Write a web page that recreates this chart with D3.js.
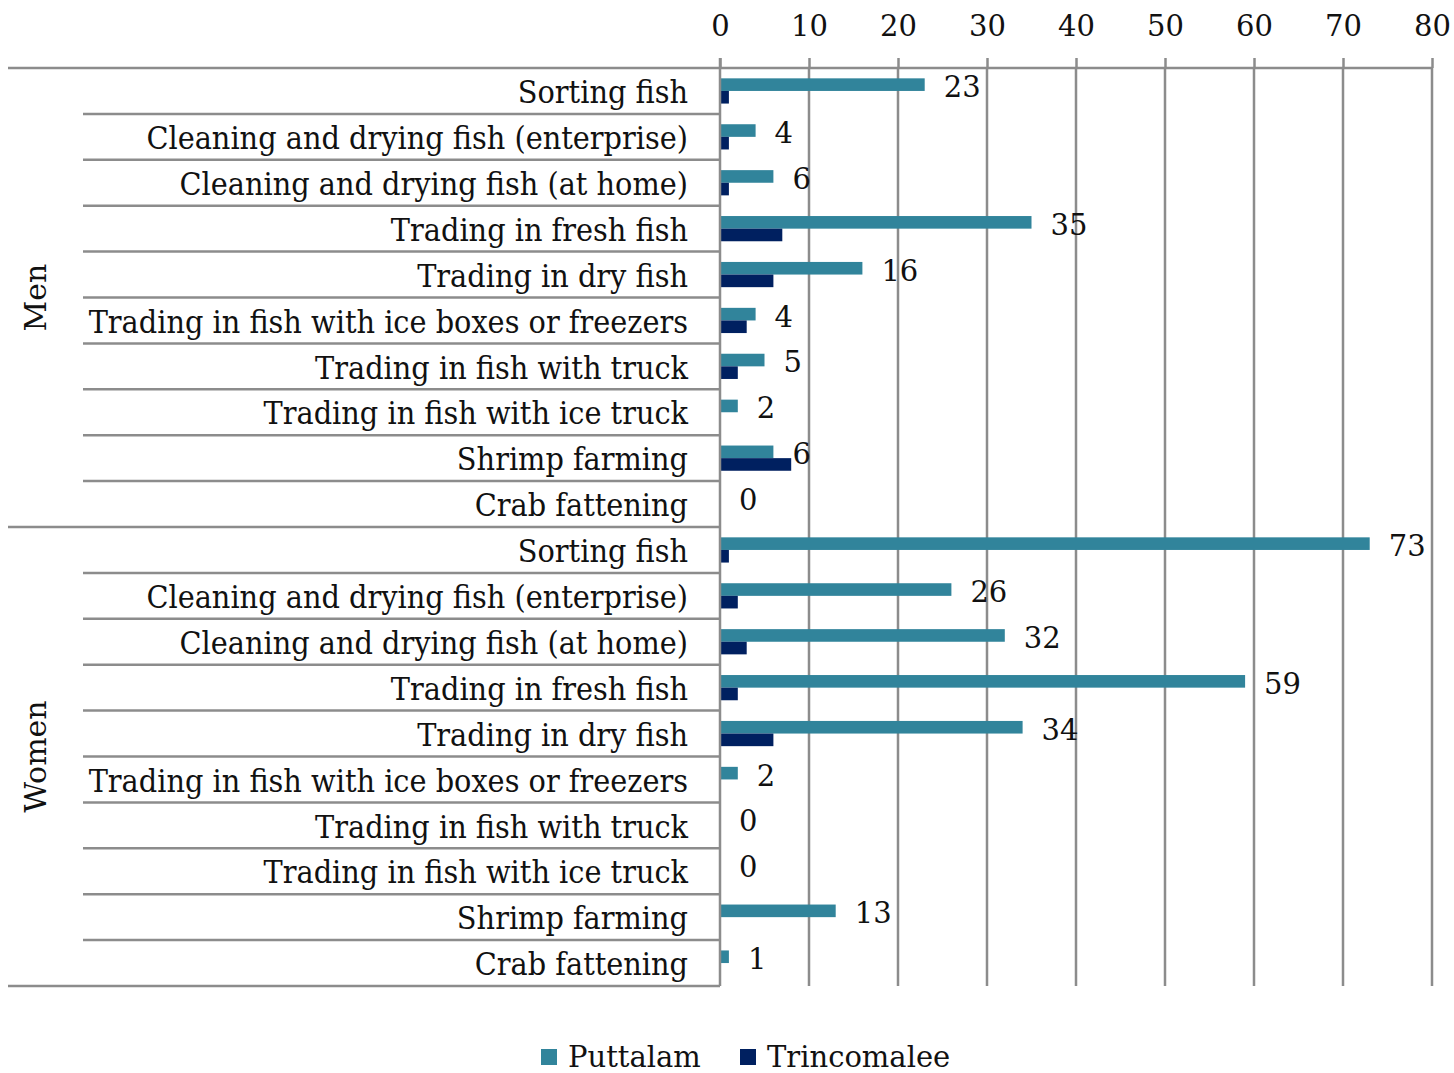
<!DOCTYPE html>
<html><head><meta charset="utf-8">
<script src="https://cdn.jsdelivr.net/npm/d3@7"></script>
<style>body{margin:0;background:#fff;} svg{display:block;} text{font-family:"DejaVu Serif",serif;fill:#111;} .cond{font-stretch:condensed;}</style>
</head><body><svg id="c" width="1454" height="1073"></svg>
<script>
const groups = ["Men", "Women"];
const activities = ["Sorting fish","Cleaning and drying fish (enterprise)","Cleaning and drying fish (at home)","Trading in fresh fish","Trading in dry fish","Trading in fish with ice boxes or freezers","Trading in fish with truck","Trading in fish with ice truck","Shrimp farming","Crab fattening"];
const series = ["Puttalam", "Trincomalee"];
const puttalamMen = [23,4,6,35,16,4,5,2,6,0];
const trincomaleeMen = [1,1,1,7,6,3,2,0,8,0];
const puttalamWomen = [73,26,32,59,34,2,0,0,13,1];
const trincomaleeWomen = [1,2,3,2,6,0,0,0,0,0];
const xTicks = [0,10,20,30,40,50,60,70,80];
const colors = ["#31849B", "#002060"];

const rows = [];
groups.forEach((g, gi) => activities.forEach((a, ai) => {
  const p = gi === 0 ? puttalamMen[ai] : puttalamWomen[ai];
  const t = gi === 0 ? trincomaleeMen[ai] : trincomaleeWomen[ai];
  rows.push({key: g + "|" + a, group: g, label: a, idx: ai, vals: [p, t]});
}));

const svg = d3.select("#c");
const topY = 68, bottomY = 986, left0 = 8, innerLeft = 83, axisX = 720;
const x = d3.scaleLinear().domain([0, 80]).range([720, 1432]);
const y = d3.scaleBand().domain(rows.map(r => r.key)).range([topY, bottomY]);
const yi = d3.scaleBand().domain(series).range([0, y.bandwidth()]).paddingInner(0).paddingOuter(0.82);

const gridCol = "#8c8c8c";
svg.append("g").selectAll("line").data(xTicks.slice(1)).join("line")
  .attr("x1", d => x(d)).attr("x2", d => x(d)).attr("y1", topY).attr("y2", bottomY)
  .attr("stroke", gridCol).attr("stroke-width", 2.5);

const ax = svg.append("g").attr("transform", `translate(0,${topY})`)
  .call(d3.axisTop(x).tickValues(xTicks).tickSize(10).tickPadding(22).tickFormat(d3.format("d")));
ax.select(".domain").remove();
ax.selectAll(".tick line").attr("stroke", gridCol).attr("stroke-width", 2.5);
ax.selectAll(".tick text").attr("font-size", 29).attr("font-family", "DejaVu Serif").attr("fill", "#111");

const rg = svg.append("g").selectAll("g").data(rows).join("g")
  .attr("transform", d => `translate(0,${y(d.key)})`);
rg.selectAll("rect").data(d => d.vals.map((v, i) => ({v, s: series[i], i}))).join("rect")
  .attr("x", x(0)).attr("y", d => yi(d.s)).attr("height", yi.bandwidth())
  .attr("width", d => x(d.v) - x(0)).attr("fill", d => colors[d.i]);
rg.append("text").attr("x", d => x(d.vals[0]) + 19).attr("y", yi("Puttalam") + yi.bandwidth() / 2 + 2)
  .attr("dy", "0.36em").attr("font-size", 29).text(d => d.vals[0]);
rg.append("text").attr("class", "cond").attr("x", 688).attr("y", y.bandwidth() / 2).attr("dy", "0.38em")
  .attr("text-anchor", "end").attr("font-size", 32).text(d => d.label);

svg.append("g").selectAll("line").data(rows.filter(r => r.idx > 0)).join("line")
  .attr("x1", innerLeft).attr("x2", axisX).attr("y1", d => y(d.key)).attr("y2", d => y(d.key))
  .attr("stroke", gridCol).attr("stroke-width", 2.5);
const gb = [topY, y(groups[1] + "|" + activities[0]), bottomY];
svg.append("g").selectAll("line").data(gb).join("line")
  .attr("x1", left0).attr("x2", (d, i) => i === 0 ? x(80) : axisX).attr("y1", d => d).attr("y2", d => d)
  .attr("stroke", gridCol).attr("stroke-width", 2.5);
svg.append("line").attr("x1", axisX).attr("x2", axisX).attr("y1", topY - 10).attr("y2", bottomY)
  .attr("stroke", gridCol).attr("stroke-width", 2.5);

groups.forEach((g, i) => {
  const cy = (gb[i] + gb[i + 1]) / 2;
  svg.append("text").attr("transform", `translate(35,${cy}) rotate(-90)`).attr("text-anchor", "middle")
    .attr("dy", "0.35em").attr("font-size", 30).text(g);
});

const leg = svg.append("g").attr("transform", "translate(0,1057)");
const lx = [541, 740];
series.forEach((s, i) => {
  leg.append("rect").attr("x", lx[i]).attr("y", -8).attr("width", 16).attr("height", 16).attr("fill", colors[i]);
  leg.append("text").attr("x", lx[i] + 27).attr("y", 0).attr("dy", "0.36em").attr("font-size", 29).text(s);
});
</script></body></html>
